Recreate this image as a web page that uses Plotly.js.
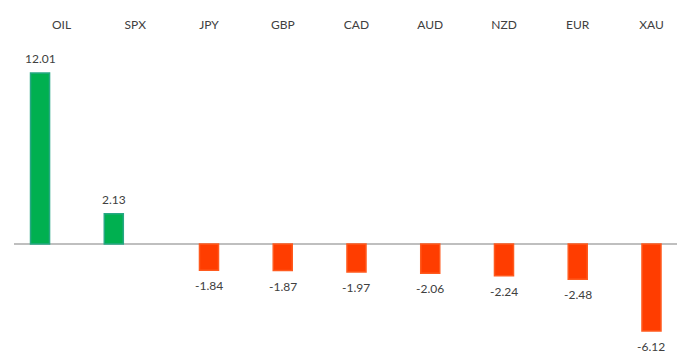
<!DOCTYPE html>
<html>
<head>
<meta charset="utf-8">
<script src="https://cdn.plot.ly/plotly-3.0.1.min.js"></script>
<style>html,body{margin:0;padding:0;background:#fff;}#chart{width:683px;height:363px;}</style>
</head>
<body>
<div id="chart"></div>
<script>
const categories = ["OIL", "SPX", "JPY", "GBP", "CAD", "AUD", "NZD", "EUR", "XAU"];
const values = [12.01, 2.13, -1.84, -1.87, -1.97, -2.06, -2.24, -2.48, -6.12];

const posVals = values.map(v => v > 0 ? v : null);
const negVals = values.map(v => v < 0 ? v : null);

const BAR_W = 0.258, POS_OFF = -0.42, NEG_OFF = -0.129;

const traces = [
  {
    type: "bar", x: categories, y: posVals,
    width: BAR_W, offset: POS_OFF,
    marker: {color: "#00b050", line: {color: "#27a884", width: 1.5}},
    hoverinfo: "x+y"
  },
  {
    type: "bar", x: categories, y: negVals,
    width: BAR_W, offset: NEG_OFF,
    marker: {color: "#ff3d00", line: {color: "#ff5a1e", width: 1.5}},
    hoverinfo: "x+y"
  }
];

const annotations = values.map((v, i) => {
  const pos = v > 0;
  const centerOffset = (pos ? POS_OFF : NEG_OFF) + BAR_W / 2;
  return {
    x: i + centerOffset, y: v, xref: "x", yref: "y",
    text: v.toFixed(2), showarrow: false,
    xanchor: "center", yanchor: pos ? "bottom" : "top",
    yshift: pos ? 5 : -6,
    font: {family: "Lato, 'Open Sans', sans-serif", size: 12, color: "#404040"}
  };
});

const layout = {
  width: 683, height: 363,
  margin: {l: 14, r: 6, t: 40, b: 8},
  paper_bgcolor: "#ffffff", plot_bgcolor: "#ffffff",
  showlegend: false,
  barmode: "overlay",
  font: {family: "Lato, 'Open Sans', sans-serif", size: 12, color: "#404040"},
  xaxis: {
    type: "category", side: "top", range: [-0.644, 8.346],
    showgrid: false, zeroline: false, showline: false, ticks: "",
    ticklabelstandoff: 8,
    tickfont: {size: 12, color: "#404040"}
  },
  yaxis: {
    range: [-7.8, 14.33], showgrid: false, showticklabels: false, ticks: "",
    zeroline: true, zerolinecolor: "#bfbfbf", zerolinewidth: 2, showline: false
  },
  annotations: annotations
};

Plotly.newPlot("chart", traces, layout, {staticPlot: true, displayModeBar: false});
</script>
</body>
</html>
